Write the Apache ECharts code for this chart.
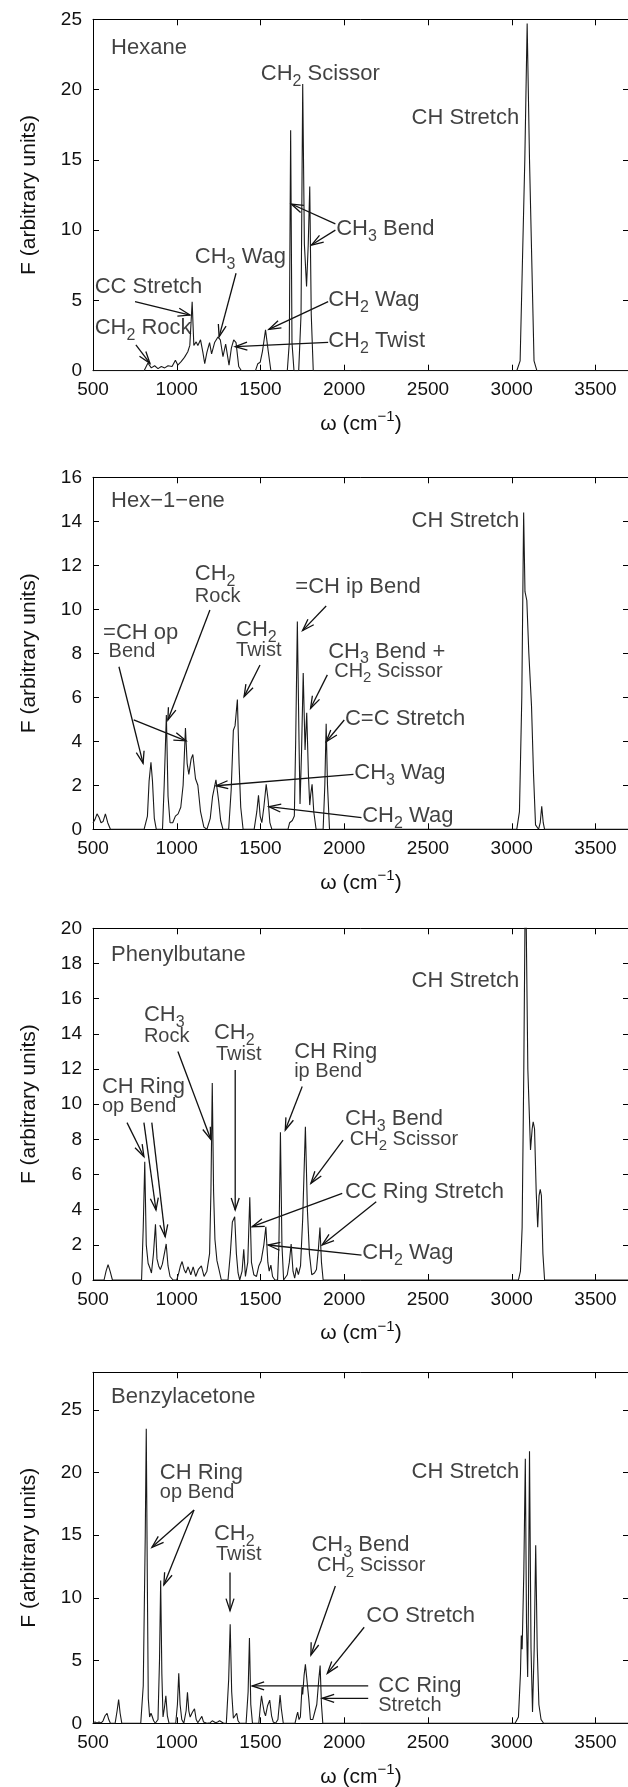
<!DOCTYPE html>
<html>
<head>
<meta charset="utf-8">
<script src="https://cdn.jsdelivr.net/npm/echarts@6/dist/echarts.min.js"></script>
<style>
html, body { margin: 0; padding: 0; background: #fff; }
#chart { width: 628px; height: 1787px; }
</style>
</head>
<body>
<div id="chart"></div>
<script>
// spectra: wavenumber (cm-1) and intensity F
var hexaneW = [500, 805, 828, 848, 868, 888, 908, 928, 948, 972, 992, 1006, 1026, 1046, 1066, 1078, 1092, 1102, 1116, 1126, 1142, 1156, 1167, 1180, 1196, 1208, 1226, 1246, 1260, 1276, 1292, 1312, 1326, 1340, 1354, 1370, 1386, 1470, 1484, 1498, 1512, 1530, 1546, 1562, 1660, 1672, 1680, 1688, 1700, 1728, 1742, 1752, 1762, 1775, 1785, 1794, 1803, 1815, 3030, 3050, 3078, 3092, 3106, 3133, 3150, 3700];
var hexaneF = [0, 0, 0.55, 0.2, 0.35, 0.15, 0.3, 0.2, 0.35, 0.3, 0.75, 0.4, 0.65, 0.95, 1.35, 1.8, 4.9, 1.8, 2.05, 1.8, 2.2, 1.3, 0.5, 1.3, 2.0, 1.2, 2.0, 2.4, 2.2, 1.0, 1.9, 0.4, 1.6, 2.2, 2.0, 0.3, 0, 0, 0.5, 0.6, 1.4, 2.9, 1.4, 0, 0, 2, 17.1, 2, 0, 0, 4, 20.4, 9, 6.0, 9, 13.1, 4, 0, 0, 0.7, 15, 24.7, 15, 0.7, 0, 0];

var hexeneW = [500, 512, 524, 536, 548, 560, 574, 588, 604, 805, 825, 835, 846, 855, 866, 878, 915, 925, 938, 948, 960, 976, 992, 1008, 1024, 1038, 1052, 1062, 1072, 1086, 1096, 1112, 1126, 1142, 1162, 1180, 1200, 1214, 1234, 1250, 1262, 1276, 1310, 1325, 1338, 1348, 1362, 1372, 1382, 1396, 1462, 1478, 1488, 1498, 1508, 1520, 1534, 1546, 1556, 1568, 1664, 1674, 1690, 1702, 1710, 1720, 1730, 1736, 1745, 1755, 1766, 1776, 1786, 1794, 1800, 1808, 1818, 1832, 1874, 1884, 1892, 1900, 1912, 3030, 3046, 3060, 3071, 3079, 3090, 3102, 3118, 3130, 3142, 3160, 3170, 3179, 3188, 3196, 3700];
var hexeneF = [0.3, 0.45, 0.7, 0.55, 0.3, 0.35, 0.7, 0.3, 0, 0, 0.6, 2.2, 3.05, 2.2, 0.5, 0, 0, 2.0, 5.2, 1.5, 0.3, 0.3, 0.6, 0.7, 1.0, 2.0, 4.6, 3.0, 2.5, 3.2, 3.4, 2.3, 2.0, 0.8, 0.1, 0, 0.5, 1.5, 2.25, 1.3, 0.4, 0, 0, 1.8, 4.5, 4.7, 5.9, 3.0, 1.0, 0, 0, 0.8, 1.55, 0.6, 0.3, 1.0, 2.05, 1.3, 0.3, 0, 0, 0.3, 0.4, 0.6, 4, 9.45, 4, 1.15, 3.5, 7.1, 3.6, 5.3, 2.5, 1.1, 1.6, 2.05, 0.8, 0, 0, 2.0, 4.8, 2.0, 0, 0, 0.8, 6.0, 14.4, 10.8, 10.4, 8.0, 5.6, 2.5, 0.2, 0, 0.3, 1.05, 0.3, 0, 0];

var phenylW = [500, 566, 578, 590, 602, 616, 790, 800, 809, 818, 829, 839, 849, 861, 873, 882, 892, 902, 914, 926, 937, 948, 960, 978, 1000, 1012, 1022, 1032, 1044, 1054, 1068, 1084, 1098, 1113, 1129, 1147, 1163, 1180, 1196, 1204, 1212, 1220, 1228, 1240, 1252, 1266, 1306, 1320, 1332, 1346, 1356, 1366, 1376, 1390, 1400, 1410, 1424, 1436, 1446, 1460, 1476, 1490, 1504, 1520, 1532, 1544, 1552, 1562, 1572, 1586, 1602, 1610, 1619, 1628, 1638, 1660, 1672, 1683, 1694, 1704, 1715, 1726, 1739, 1752, 1768, 1780, 1792, 1806, 1822, 1834, 1846, 1855, 1864, 1874, 3040, 3052, 3062, 3072, 3082, 3096, 3112, 3116, 3122, 3128, 3136, 3146, 3155, 3163, 3170, 3177, 3186, 3196, 3700];
var phenylF = [0, 0, 0.5, 0.87, 0.5, 0, 0, 3, 6.73, 2, 0.95, 0.7, 0.4, 1.5, 3.17, 1.2, 0.8, 0.6, 0.9, 1.5, 2.05, 0.8, 0.2, 0, 0, 0.4, 0.8, 1.05, 0.6, 0.4, 0.75, 0.3, 0.75, 0.2, 0.6, 0.8, 0.2, 0.5, 1.5, 5, 11.2, 5, 2.3, 1.1, 0.6, 0, 0, 1.5, 3.3, 3.6, 1.5, 0.4, 0, 0.5, 1.75, 0.2, 1.0, 4.7, 1.0, 0.3, 0.2, 0.8, 1.1, 2.0, 3.03, 1.0, 0.5, 0.85, 0.2, 0, 0, 2, 8.4, 2, 0, 0.3, 1.0, 2.05, 0.5, 0.1, 0.7, 0.3, 0.8, 3.5, 8.72, 4, 1.5, 0.3, 0.4, 0.6, 1.8, 2.99, 1.0, 0, 0, 0.5, 3, 12, 24, 12, 7.4, 7.3, 8.6, 9.0, 8.6, 5, 3.0, 4.8, 5.15, 4.8, 1.5, 0, 0];

var benzylW = [500, 512, 524, 536, 548, 560, 572, 584, 594, 604, 632, 644, 653, 662, 672, 785, 800, 812, 818, 824, 830, 838, 846, 852, 862, 872, 888, 897, 904, 911, 918, 926, 935, 944, 954, 994, 1004, 1012, 1020, 1030, 1042, 1056, 1064, 1072, 1080, 1094, 1106, 1116, 1126, 1138, 1150, 1160, 1180, 1200, 1212, 1222, 1232, 1244, 1256, 1266, 1280, 1296, 1310, 1319, 1328, 1338, 1348, 1358, 1366, 1376, 1414, 1426, 1434, 1442, 1452, 1490, 1498, 1506, 1514, 1522, 1530, 1542, 1555, 1566, 1576, 1590, 1604, 1612, 1617, 1624, 1636, 1706, 1716, 1722, 1730, 1738, 1748, 1752, 1760, 1768, 1778, 1788, 1798, 1812, 1826, 1836, 1848, 1856, 1864, 1872, 3020, 3040, 3052, 3057, 3062, 3072, 3081, 3088, 3095, 3100, 3106, 3115, 3124, 3134, 3143, 3152, 3162, 3175, 3190, 3700];
var benzylF = [0.05, 0.1, 0.02, 0.1, 0.02, 0.2, 0.6, 0.8, 0.3, 0, 0, 1.0, 1.9, 0.8, 0, 0, 3, 15, 23.5, 12, 2, 0.5, 0.8, 0.6, 0.2, 0, 0.3, 5, 11.4, 4, 0.5, 1.2, 2.2, 0.6, 0, 0, 1.5, 4.0, 1.5, 0.3, 0, 1.0, 2.47, 1.0, 0.5, 0.9, 1.15, 0.3, 0.05, 0.3, 0.55, 0.1, 0, 0.05, 0.2, 0.2, 0.05, 0.1, 0.2, 0.05, 0, 0, 3.5, 7.9, 2.5, 0.4, 0.5, 0.8, 0.2, 0, 0, 2.5, 6.8, 1.5, 0, 0, 1.2, 2.2, 1.5, 0.9, 0.6, 1.4, 1.85, 0.6, 0.1, 0, 0.3, 1.5, 2.25, 1.2, 0, 0, 0.6, 0.9, 0.3, 0.5, 2.9, 2.3, 3.8, 4.7, 4.8, 2, 0.3, 0.3, 1.0, 1.5, 3.5, 4.6, 1.5, 0, 0, 0.5, 4, 7.0, 5.9, 12, 21.1, 8, 3.7, 10, 21.7, 6, 0.9, 6, 14.2, 6, 1.5, 0.3, 0, 0];

// annotation text: [w, F at text middle, text]; arrows: [w1, F1, w2, F2] (head at w2, F2)
var hexaneText = [
  [608, 22.94, 'Hexane'],
  [1502, 21.1, 'CH{s|2} Scissor'],
  [2402, 17.98, 'CH Stretch'],
  [1952, 10.06, 'CH{s|3} Bend'],
  [1108, 8.11, 'CH{s|3} Wag'],
  [510, 5.98, 'CC Stretch'],
  [510, 3.06, 'CH{s|2} Rock'],
  [1904, 5.03, 'CH{s|2} Wag'],
  [1904, 2.13, 'CH{s|2} Twist']
];
var hexaneArrows = [
  [1947, 10.44, 1684, 11.86],
  [1947, 10.0, 1804, 8.94],
  [1354, 6.93, 1253, 2.42],
  [751, 4.91, 1079, 3.96],
  [756, 1.83, 840, 0.52],
  [1904, 4.91, 1550, 2.94],
  [1904, 2.02, 1349, 1.71]
];

var hexeneText = [
  [608, 14.94, 'Hex\u22121\u2212ene'],
  [2402, 14.02, 'CH Stretch'],
  [1108, 11.59, 'CH{s|2}'],
  [1108, 10.58, '{b|Rock}'],
  [560, 8.94, '=CH op'],
  [593, 8.08, '{b|Bend}'],
  [1354, 9.06, 'CH{s|2}'],
  [1354, 8.12, '{b|Twist}'],
  [1708, 11.0, '=CH ip Bend'],
  [1904, 8.08, 'CH{s|3} Bend +'],
  [1940, 7.17, '{b|CH}{t|2}{b| Scissor}'],
  [2004, 5.0, 'C=C Stretch'],
  [2060, 2.55, 'CH{s|3} Wag'],
  [2107, 0.61, 'CH{s|2} Wag']
];
var hexeneArrows = [
  [1198, 9.97, 947, 4.97],
  [655, 7.39, 799, 3.0],
  [743, 4.97, 1055, 4.02],
  [1497, 7.47, 1402, 6.03],
  [1892, 10.15, 1751, 9.03],
  [1899, 7.02, 1799, 5.5],
  [2000, 4.97, 1892, 3.98],
  [2055, 2.5, 1234, 1.98],
  [2103, 0.53, 1550, 1.03]
];

var phenylText = [
  [608, 18.48, 'Phenylbutane'],
  [2402, 17.02, 'CH Stretch'],
  [804, 15.07, 'CH{s|3}'],
  [804, 13.84, '{b|Rock}'],
  [1222, 14.03, 'CH{s|2}'],
  [1234, 12.85, '{b|Twist}'],
  [1701, 12.95, 'CH Ring'],
  [1701, 11.85, '{b|ip Bend}'],
  [553, 10.96, 'CH Ring'],
  [553, 9.86, '{b|op Bend}'],
  [2004, 9.14, 'CH{s|3} Bend'],
  [2033, 8.0, '{b|CH}{t|2}{b| Scissor}'],
  [2004, 4.99, 'CC Ring Stretch'],
  [2107, 1.55, 'CH{s|2} Wag']
];
var phenylArrows = [
  [1007, 12.99, 1203, 8.0],
  [1349, 11.94, 1349, 3.98],
  [1749, 11.0, 1648, 8.53],
  [703, 8.95, 804, 7.01],
  [804, 8.95, 876, 3.98],
  [851, 8.95, 931, 2.46],
  [1993, 7.96, 1801, 5.5],
  [1988, 4.93, 1450, 3.03],
  [2191, 4.45, 1868, 1.99],
  [2103, 1.42, 1545, 1.99]
];

var benzylText = [
  [608, 26.01, 'Benzylacetone'],
  [2402, 20.08, 'CH Stretch'],
  [899, 20.0, 'CH Ring'],
  [899, 18.4, '{b|op Bend}'],
  [1222, 15.1, 'CH{s|2}'],
  [1234, 13.43, '{b|Twist}'],
  [1804, 14.23, 'CH{s|3} Bend'],
  [1837, 12.55, '{b|CH}{t|2}{b| Scissor}'],
  [2131, 8.56, 'CO Stretch'],
  [2203, 2.98, 'CC Ring'],
  [2203, 1.46, '{b|Stretch}']
];
var benzylArrows = [
  [1103, 17.02, 852, 14.04],
  [1103, 17.02, 923, 11.04],
  [1318, 12.02, 1318, 8.99],
  [1947, 10.96, 1801, 5.45],
  [2119, 7.66, 1899, 3.99],
  [2143, 2.98, 1450, 2.98],
  [2143, 1.99, 1868, 1.99]
];

var xMin = 500, xMax = 3700, xStep = 500;

var FONT = '"Liberation Sans", Arial, Helvetica, sans-serif';
var INK = '#111';

var panels = [
  { w: hexaneW, f: hexaneF, text: hexaneText, arrows: hexaneArrows, yMax: 25, yStep: 5, top: 19.3, height: 351.4 },
  { w: hexeneW, f: hexeneF, text: hexeneText, arrows: hexeneArrows, yMax: 16, yStep: 2, top: 477.3, height: 352 },
  { w: phenylW, f: phenylF, text: phenylText, arrows: phenylArrows, yMax: 20, yStep: 2, top: 928.3, height: 351.7 },
  { w: benzylW, f: benzylF, text: benzylText, arrows: benzylArrows, yMax: 28, yStep: 5, top: 1372.3, height: 351 }
];

var rich = {
  s: { fontSize: 16, verticalAlign: 'bottom', fontFamily: FONT, color: INK },
  b: { fontSize: 20, lineHeight: 28, fontFamily: FONT, color: INK },
  t: { fontSize: 15, lineHeight: 15, verticalAlign: 'bottom', fontFamily: FONT, color: INK }
};

// shaft + open V head, placed through the axis scales
function drawArrow(params, api) {
  var a = api.coord([api.value(0), api.value(1)]);
  var b = api.coord([api.value(2), api.value(3)]);
  var ang = Math.atan2(b[1] - a[1], b[0] - a[0]);
  var L = 12, W = 4;
  var c = Math.cos(ang), s = Math.sin(ang);
  var h1 = [b[0] - L * c + W * s, b[1] - L * s - W * c];
  var h2 = [b[0] - L * c - W * s, b[1] - L * s + W * c];
  return {
    type: 'group',
    children: [
      { type: 'line', shape: { x1: a[0], y1: a[1], x2: b[0], y2: b[1] },
        style: { stroke: INK, lineWidth: 1.3 } },
      { type: 'polyline', shape: { points: [h1, b, h2] },
        style: { stroke: INK, lineWidth: 1.3, fill: null } }
    ]
  };
}

var chart = echarts.init(document.getElementById('chart'));

var grids = [], xAxes = [], yAxes = [], series = [];

panels.forEach(function (p, i) {
  grids.push({ left: 93, top: p.top, width: 536, height: p.height,
    containLabel: false, outerBoundsMode: 'none' });

  var tick = { show: true, inside: true, length: 6, lineStyle: { color: '#000', width: 1 } };
  var line = { show: true, onZero: false, lineStyle: { color: '#000', width: 1 } };

  xAxes.push({
    type: 'value', gridIndex: i, position: 'bottom',
    min: xMin, max: xMax, interval: xStep,
    axisLine: line, axisTick: tick, splitLine: { show: false },
    axisLabel: { fontSize: 19, color: INK, fontFamily: FONT, margin: 10,
      formatter: function (v) { return v % xStep === 0 ? String(v) : ''; } },
    name: '\u03c9 (cm{sup|\u22121})', nameLocation: 'middle', nameGap: 39,
    nameTextStyle: { fontSize: 21, lineHeight: 29, color: INK, fontFamily: FONT,
      rich: { sup: { fontSize: 15, verticalAlign: 'top', color: INK, fontFamily: FONT } } }
  });
  xAxes.push({
    type: 'value', gridIndex: i, position: 'top',
    min: xMin, max: xMax, interval: xStep,
    axisLine: line, axisTick: tick, splitLine: { show: false },
    axisLabel: { show: false }
  });

  yAxes.push({
    type: 'value', gridIndex: i, position: 'left',
    min: 0, max: p.yMax, interval: p.yStep,
    axisLine: line, axisTick: tick, splitLine: { show: false },
    axisLabel: { fontSize: 19, color: INK, fontFamily: FONT, margin: 11,
      formatter: function (v) { return v % p.yStep === 0 ? String(v) : ''; } },
    name: 'F (arbitrary units)', nameLocation: 'middle', nameRotate: 90, nameGap: 53,
    nameTextStyle: { fontSize: 21, color: INK, fontFamily: FONT }
  });
  yAxes.push({
    type: 'value', gridIndex: i, position: 'right',
    min: 0, max: p.yMax, interval: p.yStep,
    axisLine: line, axisTick: tick, splitLine: { show: false },
    axisLabel: { show: false }
  });

  var pts = p.w.map(function (w, k) { return [w, p.f[k]]; });
  series.push({
    type: 'line', xAxisIndex: 2 * i, yAxisIndex: 2 * i,
    data: pts, showSymbol: false, symbol: 'none', clip: true, silent: true,
    lineStyle: { color: '#1a1a1a', width: 1.1 }
  });

  series.push({
    type: 'scatter', xAxisIndex: 2 * i, yAxisIndex: 2 * i,
    symbolSize: 0, silent: true, clip: false,
    itemStyle: { color: 'transparent' },
    data: p.text.map(function (t) { return { name: t[2], value: [t[0], t[1]] }; }),
    label: {
      show: true, position: 'right', distance: 0,
      fontSize: 22, lineHeight: 31, color: INK, fontFamily: FONT,
      formatter: function (q) { return q.name; },
      rich: rich
    }
  });

  series.push({
    type: 'custom', xAxisIndex: 2 * i, yAxisIndex: 2 * i,
    silent: true, clip: false,
    encode: { x: [0, 2], y: [1, 3] },
    data: p.arrows,
    renderItem: drawArrow
  });
});

chart.setOption({
  animation: false,
  backgroundColor: '#fff',
  textStyle: { fontFamily: FONT, color: INK },
  grid: grids,
  xAxis: xAxes,
  yAxis: yAxes,
  series: series
});
</script>
</body>
</html>
